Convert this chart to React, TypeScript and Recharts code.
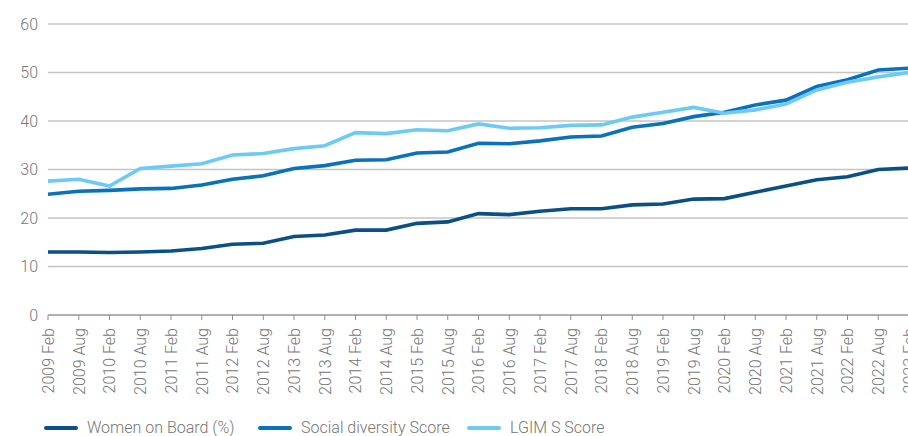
import React from 'react';
import { LineChart, Line, XAxis, YAxis, CartesianGrid, Legend } from 'recharts';

const periods = [
  '2009 Feb', '2009 Aug', '2010 Feb', '2010 Aug', '2011 Feb', '2011 Aug', '2012 Feb', '2012 Aug',
  '2013 Feb', '2013 Aug', '2014 Feb', '2014 Aug', '2015 Feb', '2015 Aug', '2016 Feb', '2016 Aug',
  '2017 Feb', '2017 Aug', '2018 Feb', '2018 Aug', '2019 Feb', '2019 Aug', '2020 Feb', '2020 Aug',
  '2021 Feb', '2021 Aug', '2022 Feb', '2022 Aug', '2023 Feb',
];

const womenOnBoard = [
  13.0, 13.0, 12.9, 13.0, 13.2, 13.7, 14.6, 14.8, 16.2, 16.5, 17.5, 17.5, 18.9, 19.2, 20.9,
  20.7, 21.4, 21.9, 21.9, 22.7, 22.9, 23.9, 24.0, 25.3, 26.6, 27.9, 28.5, 30.0, 30.3,
];

const socialDiversity = [
  24.9, 25.5, 25.7, 26.0, 26.1, 26.8, 28.0, 28.7, 30.2, 30.8, 31.9, 32.0, 33.4, 33.6, 35.4,
  35.3, 35.9, 36.7, 36.9, 38.7, 39.5, 40.9, 41.8, 43.3, 44.3, 47.1, 48.5, 50.5, 50.9,
];

const lgimScore = [
  27.6, 28.0, 26.6, 30.2, 30.7, 31.2, 33.0, 33.3, 34.3, 34.9, 37.6, 37.4, 38.2, 38.0, 39.4,
  38.5, 38.6, 39.1, 39.2, 40.8, 41.8, 42.8, 41.6, 42.3, 43.5, 46.4, 48.0, 49.1, 50.0,
];

const yTicks = [0, 10, 20, 30, 40, 50, 60];

const series = [
  { key: 'women', name: 'Women on Board (%)', color: '#0b4f87' },
  { key: 'social', name: 'Social diversity Score', color: '#0a71bb' },
  { key: 'lgim', name: 'LGIM S Score', color: '#6dcaf4' },
];

const data = periods.map((p, i) => ({
  period: p,
  women: womenOnBoard[i],
  social: socialDiversity[i],
  lgim: lgimScore[i],
}));

const FONT = 'Roboto, "Noto Sans", sans-serif';
const TEXT = '#767676';

const PeriodTick = (props: any) => {
  const { x, y, payload } = props;
  return (
    <text
      x={x}
      y={y + 6}
      transform={`rotate(-90, ${x}, ${y + 6})`}
      textAnchor="end"
      dy="0.36em"
      fill={TEXT}
      fontSize={16}
      fontFamily={FONT}
      fontWeight={300}
    >
      {payload.value}
    </text>
  );
};

const LegendContent = () => {
  const widths = [214, 209, 140];
  return (
    <div style={{ display: 'flex', height: 16, paddingLeft: 44, fontFamily: FONT, fontWeight: 300, fontSize: 16, color: TEXT }}>
      {series.map((s, i) => (
        <div key={s.key} style={{ width: widths[i], display: 'flex', alignItems: 'center' }}>
          <span style={{ display: 'inline-block', width: 34, height: 4, borderRadius: 2, background: s.color, marginRight: 9 }} />
          <span style={{ lineHeight: '16px', whiteSpace: 'nowrap' }}>{s.name}</span>
        </div>
      ))}
    </div>
  );
};

const App: React.FC = () => {
  return (
    <div style={{ position: 'absolute', left: 0, top: 0, width: 908, height: 436, overflow: 'hidden', background: '#fff' }}>
      <LineChart width={909} height={436} data={data} margin={{ top: 24, right: 0, bottom: 0, left: 0 }}>
        <CartesianGrid vertical={false} stroke="#c4c4c4" strokeWidth={1.3} />
        <XAxis
          dataKey="period"
          interval={0}
          height={105}
          tick={<PeriodTick />}
          tickSize={5}
          stroke="#8c8c8c"
          tickLine={{ stroke: '#8c8c8c' }}
        />
        <YAxis
          width={48}
          domain={[0, 60]}
          ticks={yTicks}
          axisLine={false}
          tickLine={false}
          tickMargin={4}
          tick={{ fill: TEXT, fontSize: 16, fontFamily: FONT, fontWeight: 300 }}
        />
        <Legend verticalAlign="bottom" content={<LegendContent />} wrapperStyle={{ left: 0, bottom: 0, width: 908 }} />
        {series.map((s) => (
          <Line
            key={s.key}
            type="linear"
            dataKey={s.key}
            name={s.name}
            stroke={s.color}
            strokeWidth={3.6}
            dot={false}
            isAnimationActive={false}
          />
        ))}
      </LineChart>
    </div>
  );
};

export default App;
